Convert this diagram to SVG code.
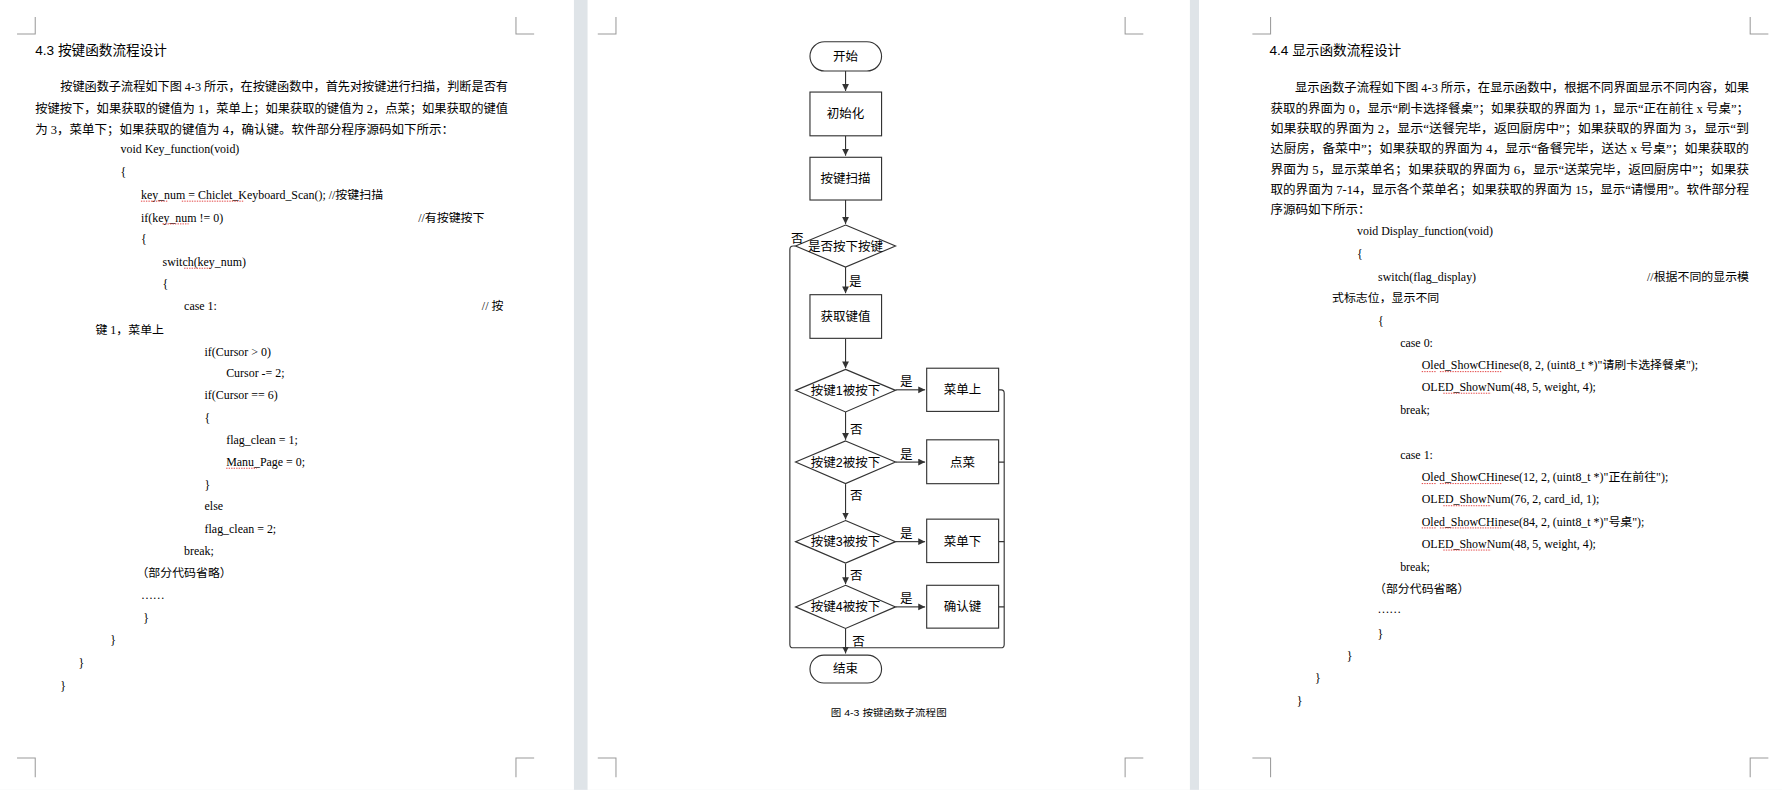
<svg xmlns="http://www.w3.org/2000/svg" width="1782" height="790" viewBox="0 0 1782 790">
<style>
.pg{fill:#fff}
.cm{fill:none;stroke:#999;stroke-width:0.9}
.t{font-family:"Liberation Serif","Noto Sans CJK SC",serif;font-size:11px;fill:#000}
.c{font-family:"Liberation Serif","Noto Sans CJK SC",serif;font-size:10.5px;fill:#000}
.h{font-family:"Liberation Sans","Noto Sans CJK SC",sans-serif;font-size:12px;fill:#000}
.f{font-family:"Liberation Sans","Noto Sans CJK SC",sans-serif;font-size:11px;fill:#000;text-anchor:middle}
.fl{font-family:"Liberation Sans","Noto Sans CJK SC",sans-serif;font-size:11px;fill:#000}
.cap{font-family:"Liberation Sans","Noto Sans CJK SC",sans-serif;font-size:8.5px;fill:#000}
.sh{fill:#fff;stroke:#333;stroke-width:1}
.ln{fill:none;stroke:#333;stroke-width:1}
.sq{stroke:#e03030;stroke-width:0.8;stroke-dasharray:1.2 1}
</style>
<defs>
<marker id="ah" markerWidth="8" markerHeight="8" refX="6" refY="3" orient="auto" markerUnits="userSpaceOnUse"><path d="M0,0 L6,3 L0,6 z" fill="#333"/></marker>
</defs>
<g transform="scale(1.13648)">
<rect x="0" y="0" width="1568" height="695" fill="#dfe4e8"/>
<rect class="pg" x="0" y="0" width="505" height="695"/>
<rect class="pg" x="517" y="0" width="530" height="695"/>
<rect class="pg" x="1055" y="0" width="513" height="695"/>
<g id="corners">
<path class="cm" d="M15,30H31V15M454,15V30H470M15,667H31V684M454,684V667H470"/>
<path class="cm" d="M526,30H542V15M990,15V30H1006M526,667H542V684M990,684V667H1006"/>
<path class="cm" d="M1102,30H1118V15M1540,15V30H1556M1102,667H1118V684M1540,684V667H1556"/>
</g>
<g id="left-page">
<text class="h" x="31" y="48">4.3  按键函数流程设计</text>
<text class="t" x="53" y="80" textLength="394" lengthAdjust="spacingAndGlyphs">按键函数子流程如下图 4-3 所示，在按键函数中，首先对按键进行扫描，判断是否有</text>
<text class="t" x="31" y="99" textLength="416" lengthAdjust="spacingAndGlyphs">按键按下，如果获取的键值为 1，菜单上；如果获取的键值为 2，点菜；如果获取的键值</text>
<text class="t" x="31" y="118">为 3，菜单下；如果获取的键值为 4，确认键。软件部分程序源码如下所示：</text>
<text class="c" x="106" y="135">void Key_function(void)</text>
<text class="c" x="106" y="155">{</text>
<text class="c" x="124" y="175">key_num = Chiclet_Keyboard_Scan(); //按键扫描</text>
<text class="c" x="124" y="195">if(key_num != 0)</text>
<text class="c" x="368" y="195">//有按键按下</text>
<text class="c" x="124" y="214">{</text>
<text class="c" x="143" y="234">switch(key_num)</text>
<text class="c" x="143" y="253">{</text>
<text class="c" x="162" y="273">case 1:</text>
<text class="c" x="424" y="273">//  按</text>
<text class="c" x="84" y="294">键 1，菜单上</text>
<text class="c" x="180" y="313">if(Cursor &gt; 0)</text>
<text class="c" x="199" y="332">Cursor -= 2;</text>
<text class="c" x="180" y="351">if(Cursor == 6)</text>
<text class="c" x="180" y="371">{</text>
<text class="c" x="199" y="391">flag_clean = 1;</text>
<text class="c" x="199" y="410">Manu_Page = 0;</text>
<text class="c" x="180" y="430">}</text>
<text class="c" x="180" y="449">else</text>
<text class="c" x="180" y="469">flag_clean = 2;</text>
<text class="c" x="162" y="488">break;</text>
<text class="c" x="120" y="508">（部分代码省略）</text>
<text class="c" x="124" y="527">……</text>
<text class="c" x="126" y="547">}</text>
<text class="c" x="97" y="567">}</text>
<text class="c" x="69" y="587">}</text>
<text class="c" x="53" y="607">}</text>
<path class="sq" d="M124,177H148M160,177H215M143,197H166M162,236H186M199,412H226"/>
</g>
<g id="connectors">
<path class="ln" d="M744,62.5V80" marker-end="url(#ah)"/>
<path class="ln" d="M744,119.5V137" marker-end="url(#ah)"/>
<path class="ln" d="M744,176V197" marker-end="url(#ah)"/>
<path class="ln" d="M744,235V258" marker-end="url(#ah)"/>
<path class="ln" d="M744,298V324" marker-end="url(#ah)"/>
<path class="ln" d="M744,362.5V387" marker-end="url(#ah)"/>
<path class="ln" d="M744,426V457" marker-end="url(#ah)"/>
<path class="ln" d="M744,496V514" marker-end="url(#ah)"/>
<path class="ln" d="M788,343H814" marker-end="url(#ah)"/>
<path class="ln" d="M788,406.6H814" marker-end="url(#ah)"/>
<path class="ln" d="M788,476.6H814" marker-end="url(#ah)"/>
<path class="ln" d="M788,534H814" marker-end="url(#ah)"/>
<path class="ln" d="M700,216.5H698Q695,216.5 695,219.5V567Q695,570 698,570H744"/>
<path class="ln" d="M878.7,343H881Q883.6,343 883.6,346V567Q883.6,570 880.6,570H744"/>
<path class="ln" d="M878.7,406.6H883.6M878.7,476.6H883.6M878.7,534H883.6"/>
<path class="ln" d="M744,553V575" marker-end="url(#ah)"/>
</g>
<g id="start"><rect class="sh" x="712.7" y="36.7" width="63" height="25.8" rx="12.9"/><text class="f" x="744" y="53.5">开始</text></g>
<g id="init"><rect class="sh" x="712.7" y="81" width="63" height="38.5"/><text class="f" x="744" y="104">初始化</text></g>
<g id="scan"><rect class="sh" x="712.7" y="138.4" width="63" height="37.6"/><text class="f" x="744" y="161">按键扫描</text></g>
<g id="pressed"><polygon class="sh" points="744,198 788,216.5 744,235 700,216.5"/><text class="f" x="744" y="220.5">是否按下按键</text></g>
<g id="getval"><rect class="sh" x="712.7" y="259.3" width="63" height="38.4"/><text class="f" x="744" y="282.5">获取键值</text></g>
<g id="k1"><polygon class="sh" points="744,325 788,343.5 744,362.5 700,343.5"/><text class="f" x="744" y="347.5">按键1被按下</text></g>
<g id="k2"><polygon class="sh" points="744,388 788,406.6 744,425.5 700,406.6"/><text class="f" x="744" y="410.5">按键2被按下</text></g>
<g id="k3"><polygon class="sh" points="744,458 788,476.6 744,495.5 700,476.6"/><text class="f" x="744" y="480.5">按键3被按下</text></g>
<g id="k4"><polygon class="sh" points="744,515 788,534 744,553 700,534"/><text class="f" x="744" y="538">按键4被按下</text></g>
<g id="up"><rect class="sh" x="815.4" y="324" width="63.3" height="38"/><text class="f" x="847" y="347">菜单上</text></g>
<g id="order"><rect class="sh" x="815.4" y="387" width="63.3" height="38.6"/><text class="f" x="847" y="410.5">点菜</text></g>
<g id="down"><rect class="sh" x="815.4" y="456.8" width="63.3" height="38.2"/><text class="f" x="847" y="480">菜单下</text></g>
<g id="ok"><rect class="sh" x="815.4" y="515" width="63.3" height="37.7"/><text class="f" x="847" y="538">确认键</text></g>
<g id="end"><rect class="sh" x="712.7" y="576.4" width="63" height="24.6" rx="12.3"/><text class="f" x="744" y="592.5">结束</text></g>
<g id="labels">
<text class="fl" x="696" y="214">否</text>
<text class="fl" x="747" y="252">是</text>
<text class="fl" x="792" y="340">是</text>
<text class="fl" x="792" y="404">是</text>
<text class="fl" x="792" y="473">是</text>
<text class="fl" x="792" y="531">是</text>
<text class="fl" x="748" y="382">否</text>
<text class="fl" x="748" y="440">否</text>
<text class="fl" x="748" y="510">否</text>
<text class="fl" x="750" y="568">否</text>
<text class="cap" x="731" y="630" textLength="102" lengthAdjust="spacingAndGlyphs">图 4-3 按键函数子流程图</text>
</g>
<g id="right-page">
<text class="h" x="1117" y="48">4.4  显示函数流程设计</text>
<text class="t" x="1139.5" y="81" textLength="399.5" lengthAdjust="spacingAndGlyphs">显示函数子流程如下图 4-3 所示，在显示函数中，根据不同界面显示不同内容，如果</text>
<text class="t" x="1118" y="99" textLength="421" lengthAdjust="spacingAndGlyphs">获取的界面为 0，显示“刷卡选择餐桌”；如果获取的界面为 1，显示“正在前往 x 号桌”；</text>
<text class="t" x="1118" y="117" textLength="421" lengthAdjust="spacingAndGlyphs">如果获取的界面为 2，显示“送餐完毕，返回厨房中”；如果获取的界面为 3，显示“到</text>
<text class="t" x="1118" y="135" textLength="421" lengthAdjust="spacingAndGlyphs">达厨房，备菜中”；如果获取的界面为 4，显示“备餐完毕，送达 x 号桌”；如果获取的</text>
<text class="t" x="1118" y="153" textLength="421" lengthAdjust="spacingAndGlyphs">界面为 5，显示菜单名；如果获取的界面为 6，显示“送菜完毕，返回厨房中”；如果获</text>
<text class="t" x="1118" y="170.5" textLength="421" lengthAdjust="spacingAndGlyphs">取的界面为 7-14，显示各个菜单名；如果获取的界面为 15，显示“请慢用”。软件部分程</text>
<text class="t" x="1118" y="188">序源码如下所示：</text>
<text class="c" x="1194" y="207">void Display_function(void)</text>
<text class="c" x="1194" y="227">{</text>
<text class="c" x="1212.6" y="247">switch(flag_display)</text>
<text class="c" x="1539" y="247" text-anchor="end">//根据不同的显示模</text>
<text class="c" x="1172" y="266">式标志位，显示不同</text>
<text class="c" x="1212.6" y="286">{</text>
<text class="c" x="1232" y="305">case 0:</text>
<text class="c" x="1251" y="325">Oled_ShowCHinese(8, 2, (uint8_t *)"请刷卡选择餐桌");</text>
<text class="c" x="1251" y="344">OLED_ShowNum(48, 5, weight, 4);</text>
<text class="c" x="1232" y="364.5">break;</text>
<text class="c" x="1232" y="403.5">case 1:</text>
<text class="c" x="1251" y="423.5">Oled_ShowCHinese(12, 2, (uint8_t *)"正在前往");</text>
<text class="c" x="1251" y="443">OLED_ShowNum(76, 2, card_id, 1);</text>
<text class="c" x="1251" y="462.5">Oled_ShowCHinese(84, 2, (uint8_t *)"号桌");</text>
<text class="c" x="1251" y="482">OLED_ShowNum(48, 5, weight, 4);</text>
<text class="c" x="1232" y="502">break;</text>
<text class="c" x="1209" y="521.5">（部分代码省略）</text>
<text class="c" x="1212" y="539.5">……</text>
<text class="c" x="1212" y="561">}</text>
<text class="c" x="1185" y="581">}</text>
<text class="c" x="1157" y="600">}</text>
<text class="c" x="1141" y="620">}</text>
<path class="sq" d="M1251,327H1264M1267,327H1322M1270,346H1312M1251,425.5H1264M1267,425.5H1322M1270,445H1312M1251,464.5H1264M1267,464.5H1322M1270,484H1312"/>
</g>
</g>
</svg>
